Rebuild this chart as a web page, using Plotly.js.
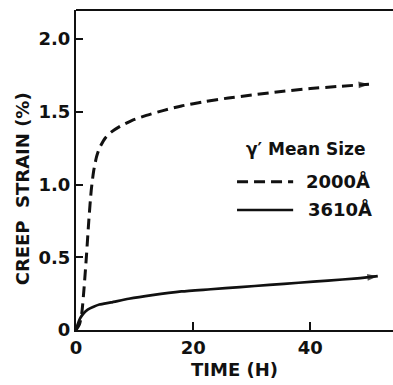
<!DOCTYPE html>
<html>
<head>
<meta charset="utf-8">
<script src="https://cdn.plot.ly/plotly-3.0.1.min.js"></script>
<style>html,body{margin:0;padding:0;background:#fff;}#chart{width:393px;height:385px;}</style>
</head>
<body>
<div id="chart"></div>
<script>
// Data
const time2000 = [0, 0.6, 1.0, 1.4, 1.8, 2.2, 2.6, 3.0, 3.5, 4.0, 5.0, 6.0, 7.5, 9.5, 12, 15, 18, 22, 26, 30, 35, 40, 45, 50];
const strain2000 = [0, 0.04, 0.12, 0.3, 0.52, 0.76, 0.96, 1.09, 1.19, 1.25, 1.32, 1.36, 1.40, 1.44, 1.475, 1.51, 1.54, 1.57, 1.595, 1.615, 1.64, 1.66, 1.675, 1.69];
const time3610 = [0, 0.3, 0.7, 1.2, 2, 3, 4, 6, 9, 13, 18, 23, 28, 33, 38, 43, 48, 51.5];
const strain3610 = [0, 0.04, 0.08, 0.11, 0.14, 0.16, 0.175, 0.19, 0.215, 0.24, 0.265, 0.28, 0.295, 0.31, 0.325, 0.34, 0.355, 0.37];
const seriesNames = ["2000\u00C5", "3610\u00C5"];
const legendTitle = "\u03B3\u2032 Mean Size";
const xTitle = "TIME (H)";
const yTitle = "CREEP\u00A0 STRAIN (%)";
const xTickVals = [0, 20, 40];
const xTickText = ["0", "20", "40"];
const yTickVals = [0, 0.5, 1.0, 1.5, 2.0];
const yTickText = ["0", "0.5", "1.0", "1.5", "2.0"];

const FONT = "DejaVu Sans, Liberation Sans, Arial, sans-serif";

function arrowSizes(n, s) { return Array.from({length: n}, (_, i) => i === n - 1 ? s : 0); }

const traces = [
  {
    x: time2000, y: strain2000, name: seriesNames[0], mode: "lines+markers",
    line: {color: "#111", width: 3, dash: "11px,6px", shape: "spline", smoothing: 0.6},
    marker: {symbol: "arrow", angleref: "previous", size: arrowSizes(time2000.length, 11), color: "#111", line: {width: 0}},
    showlegend: false, hoverinfo: "skip"
  },
  {
    x: time3610, y: strain3610, name: seriesNames[1], mode: "lines+markers",
    line: {color: "#111", width: 2.7, shape: "spline", smoothing: 0.6},
    marker: {symbol: "arrow", angleref: "previous", size: arrowSizes(time3610.length, 11), color: "#111", line: {width: 0}},
    showlegend: false, hoverinfo: "skip"
  }
];

const layout = {
  width: 393, height: 385,
  margin: {l: 76, r: 0, t: 10, b: 55},
  paper_bgcolor: "#fff", plot_bgcolor: "#fff",
  font: {family: FONT, color: "#111", size: 18, weight: "bold"},
  xaxis: {
    range: [0, 54.1], tickvals: xTickVals, ticktext: xTickText,
    ticks: "inside", ticklen: 8, tickwidth: 2, tickcolor: "#111",
    showline: true, linewidth: 2, linecolor: "#111", mirror: false,
    showgrid: false, zeroline: false,
    tickfont: {family: FONT, size: 18, weight: "bold", color: "#111"},
    title: {text: xTitle, font: {family: FONT, size: 18, weight: "bold", color: "#111"}, standoff: 7}
  },
  yaxis: {
    range: [0, 2.2], tickvals: yTickVals, ticktext: yTickText,
    ticks: "inside", ticklen: 7, tickwidth: 2, tickcolor: "#111",
    showline: true, linewidth: 2, linecolor: "#111",
    showgrid: false, zeroline: false,
    tickfont: {family: FONT, size: 18, weight: "bold", color: "#111"}
  },
  shapes: [
    // top border of frame
    {type: "line", xref: "paper", yref: "paper", x0: 0, x1: 1, y0: 1, y1: 1, line: {color: "#111", width: 2}},
    // legend keys
    {type: "line", xref: "paper", yref: "paper", x0: 0.508, x1: 0.685, y0: 0.463, y1: 0.463, line: {color: "#111", width: 3, dash: "11px,6px"}},
    {type: "line", xref: "paper", yref: "paper", x0: 0.508, x1: 0.685, y0: 0.375, y1: 0.375, line: {color: "#111", width: 2.7}}
  ],
  annotations: [
    {xref: "paper", yref: "paper", x: -0.170, y: 0.44, text: yTitle, textangle: -90, showarrow: false, xanchor: "center", yanchor: "middle",
     font: {family: FONT, size: 18, weight: "bold", color: "#111"}},
    {xref: "paper", yref: "paper", x: 0.724, y: 0.565, text: legendTitle, showarrow: false, xanchor: "center", yanchor: "middle",
     font: {family: FONT, size: 17, weight: "bold", color: "#111"}},
    {xref: "paper", yref: "paper", x: 0.72, y: 0.466, text: seriesNames[0], showarrow: false, xanchor: "left", yanchor: "middle",
     font: {family: FONT, size: 18, weight: "bold", color: "#111"}},
    {xref: "paper", yref: "paper", x: 0.725, y: 0.378, text: seriesNames[1], showarrow: false, xanchor: "left", yanchor: "middle",
     font: {family: FONT, size: 18, weight: "bold", color: "#111"}}
  ]
};

Plotly.newPlot("chart", traces, layout, {staticPlot: true, displayModeBar: false});
</script>
</body>
</html>
